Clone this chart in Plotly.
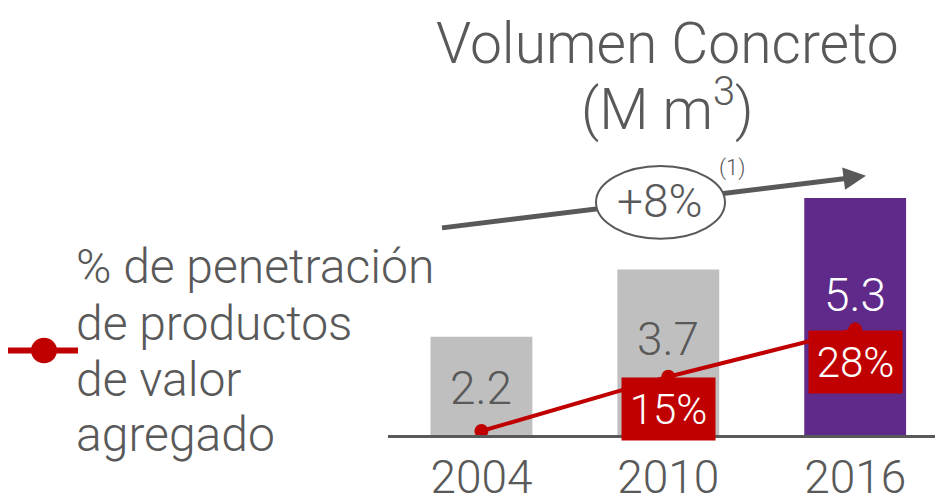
import plotly.graph_objects as go

# Data
years = ["2004", "2010", "2016"]
volume = [2.2, 3.7, 5.3]  # M m3
penetration = [0, 15, 28]  # % value-added products
penetration_labels = ["", "15%", "28%"]
bar_colors = ["#BFBFBF", "#BFBFBF", "#5F2A8A"]
volume_label_colors = ["#595959", "#595959", "#FFFFFF"]
volume_label_y = [1.06, 2.14, 3.13]  # where the value text sits inside each bar
legend_lines = ["% de penetración", "de productos", "de valor", "agregado"]

GRAY = "#595959"
RED = "#C00000"
FONT = "Roboto"

# page shift of the rendered figure and plot area (figure pixels)
OFFX, OFFY = 8, 0
L, W, H = 380, 555, 435


def sx(x):
    # screen x -> paper x
    return (x - OFFX - L) / W


def sy(y):
    # screen y -> paper y
    return (H - (y - OFFY)) / H


def txt(x, y, text, size, color=GRAY, **kw):
    d = dict(x=sx(x), y=sy(y), xref="paper", yref="paper", text=text,
             showarrow=False, xanchor="center", yanchor="middle",
             font=dict(family=FONT, size=size, color=color, weight=300))
    d.update(kw)
    return d


fig = go.Figure()

fig.add_trace(go.Bar(
    x=years, y=volume, width=0.545,
    marker=dict(color=bar_colors, line=dict(width=0)),
    hoverinfo="skip", showlegend=False,
))

fig.add_trace(go.Scatter(
    x=years, y=penetration, yaxis="y2", mode="lines+markers",
    line=dict(color=RED, width=4),
    marker=dict(color=RED, size=14),
    hoverinfo="skip", showlegend=False,
))

annotations = []

# value labels in the bars (x as index: numeric-looking category names)
for i, (yv, col, v) in enumerate(zip(volume_label_y, volume_label_colors, volume)):
    annotations.append(dict(
        x=i, y=yv, xref="x", yref="y", text=f"{v:.1f}", showarrow=False,
        xanchor="center", yanchor="middle",
        font=dict(family=FONT, size=46, color=col, weight=300),
    ))

# red boxes with penetration %
for i, (p, lbl) in enumerate(zip(penetration, penetration_labels)):
    if not lbl:
        continue
    annotations.append(dict(
        x=i, y=p, xref="x", yref="y2", text=lbl, showarrow=False,
        xanchor="center", yanchor="top", bgcolor=RED,
        width=85, height=54, borderpad=4,
        font=dict(family=FONT, size=42, color="white", weight=300),
    ))

# title
annotations.append(txt(667, 36, "Volumen Concreto", 57))
annotations.append(txt(667, 99, "(M m<sup>3</sup>)", 57))

# legend text
for line, yc in zip(legend_lines, [263, 321, 378, 434]):
    annotations.append(txt(74, yc, line, 48, xanchor="left"))

# growth arrowhead, bubble text and footnote
annotations.append(dict(
    x=sx(866), y=sy(171), xref="paper", yref="paper", ax=-20, ay=2.5,
    text="", showarrow=True, arrowhead=2, arrowsize=0.9, arrowwidth=5,
    arrowcolor=GRAY,
))
annotations.append(txt(660, 197, "+8%", 46))
annotations.append(txt(732, 163, "(1)", 22))

shapes = [
    # growth arrow shaft
    dict(type="line", xref="paper", yref="paper",
         x0=sx(442), y0=sy(224), x1=sx(852), y1=sy(173),
         line=dict(color=GRAY, width=5)),
    # bubble
    dict(type="circle", xref="paper", yref="paper",
         x0=sx(596), x1=sx(725), y0=sy(235), y1=sy(161),
         fillcolor="white", line=dict(color=GRAY, width=2)),
    # legend line + dot
    dict(type="line", xref="paper", yref="paper",
         x0=sx(8), y0=sy(349), x1=sx(78), y1=sy(349),
         line=dict(color=RED, width=6)),
    dict(type="circle", xref="paper", yref="paper",
         x0=sx(31), x1=sx(57), y0=sy(362), y1=sy(336),
         fillcolor=RED, line=dict(color=RED, width=0)),
]

fig.update_layout(
    width=943, height=496,
    margin=dict(l=L, r=943 - L - W, t=0, b=496 - H),
    plot_bgcolor="white", paper_bgcolor="white",
    xaxis=dict(
        type="category", range=[-0.5, 2.47],
        showline=True, linecolor=GRAY, linewidth=2.5,
        showgrid=False, ticks="",
        tickfont=dict(family=FONT, size=46, color=GRAY, weight=300),
    ),
    yaxis=dict(range=[0, 9.55], visible=False, showgrid=False, zeroline=False),
    yaxis2=dict(range=[-1.1, 116.8], overlaying="y", visible=False,
                showgrid=False, zeroline=False),
    annotations=annotations,
    shapes=shapes,
)

fig.write_html("out.html")
